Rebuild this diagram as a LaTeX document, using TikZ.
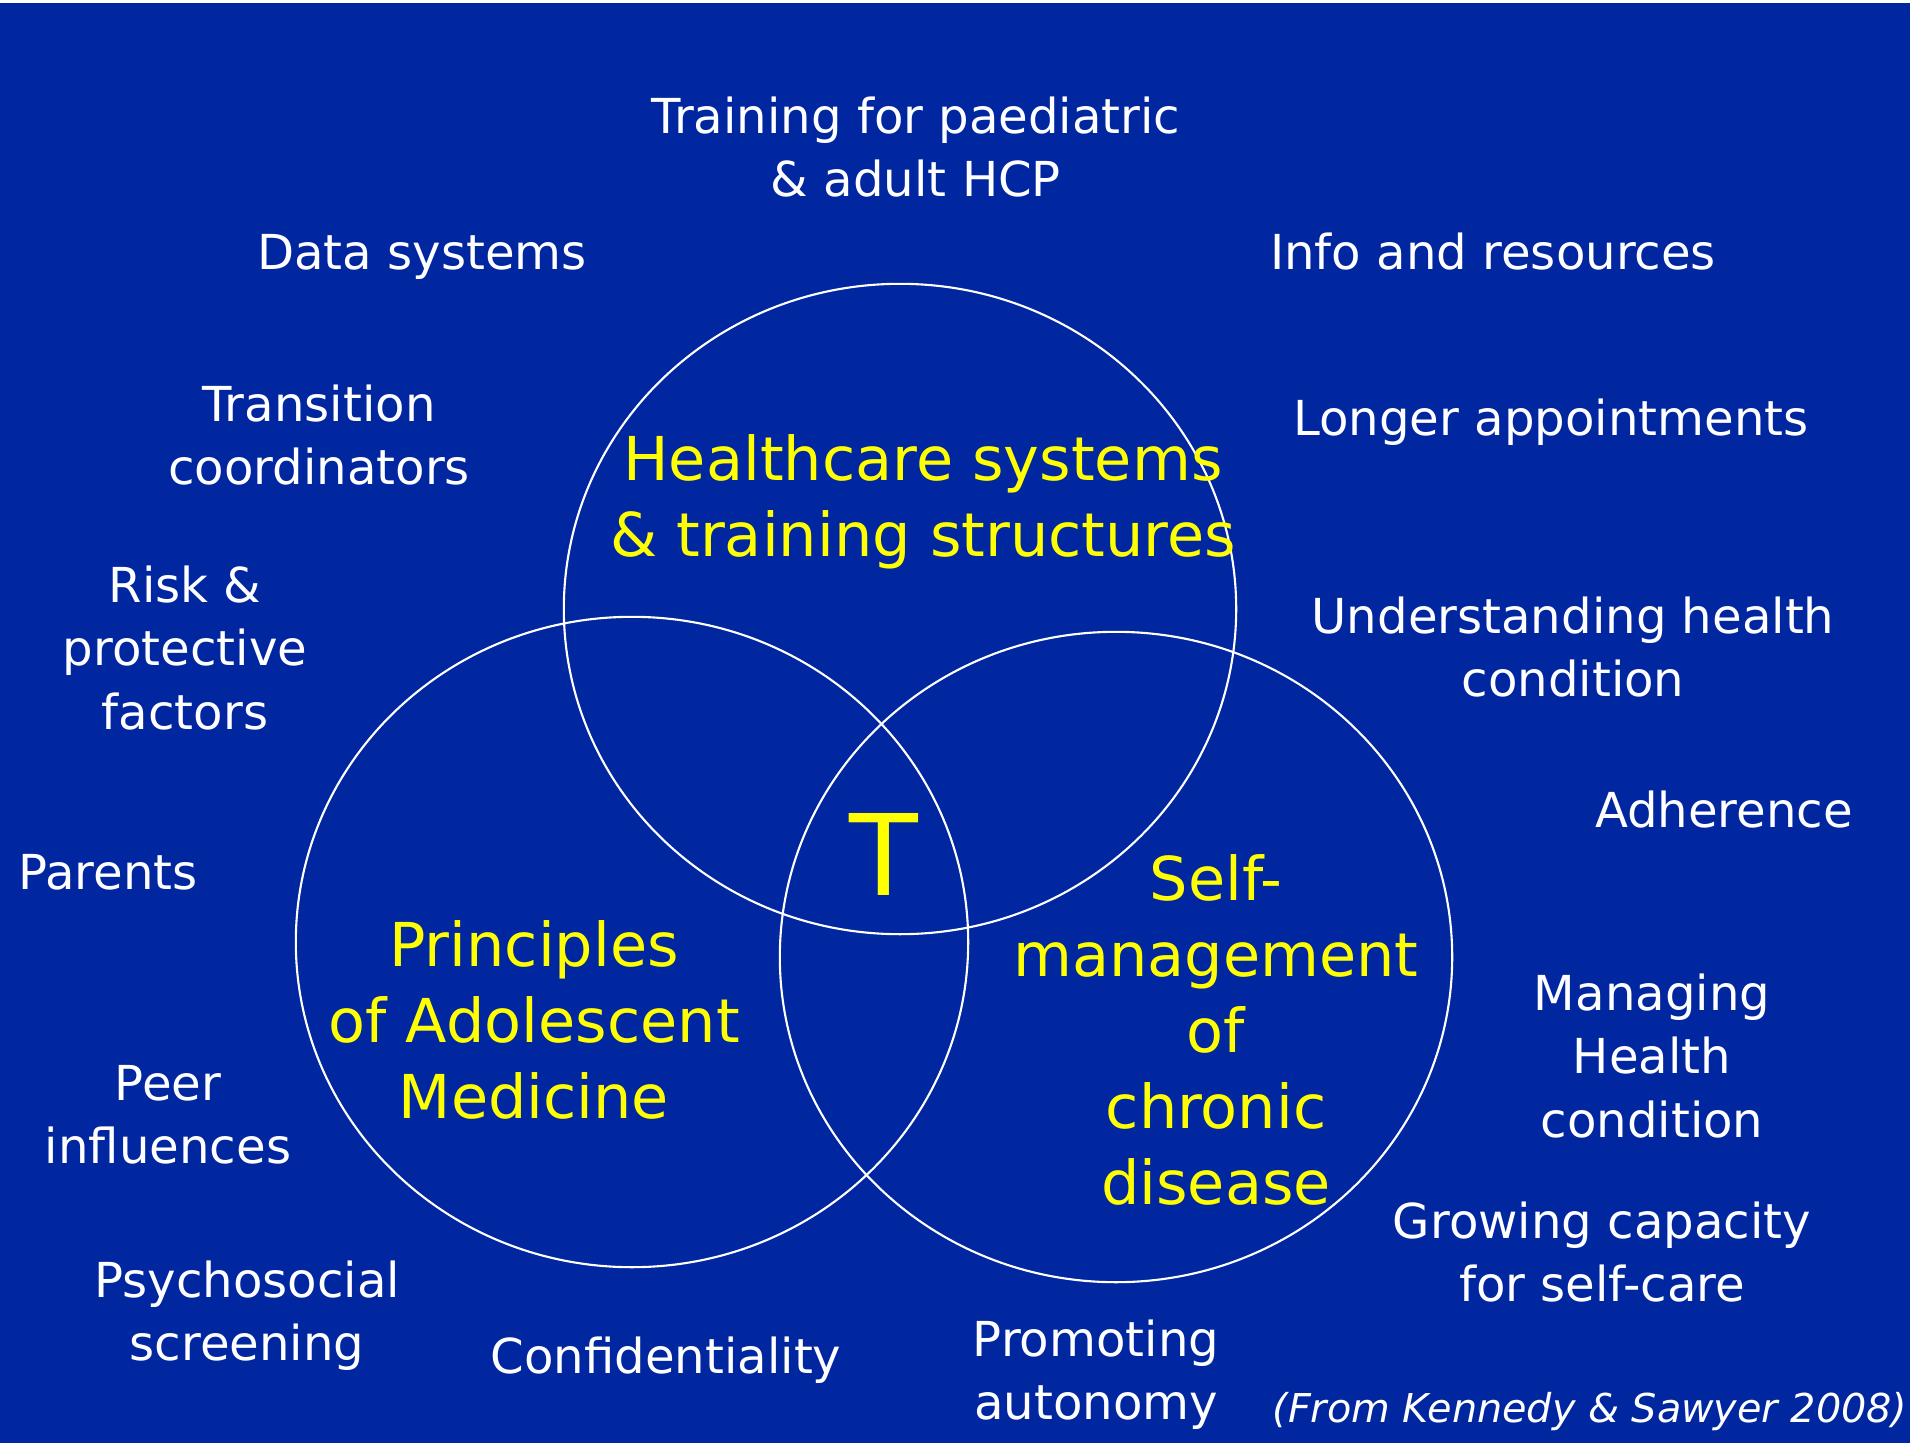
\documentclass[tikz,border=0pt]{standalone}
\usepackage{fontspec}
\setmainfont{DejaVu Sans}
\definecolor{slideblue}{RGB}{0,38,160}
\definecolor{slideyellow}{RGB}{255,255,0}

\begin{document}
\begin{tikzpicture}[x=0.01cm,y=-0.01cm,
    factor/.style={white,align=center,inner sep=0pt,font=\fontsize{13.7}{18}\selectfont},
    realm/.style={slideyellow,align=center,inner sep=0pt,font=\fontsize{17.2}{21.6}\selectfont},
    ring/.style={white,line width=0.6pt}]
    \fill[white] (0,0) rectangle (1910,1446);
    \fill[slideblue] (0,3) rectangle (1910,1443);
    \useasboundingbox (0,0) rectangle (1910,1446);
    \draw[ring] (900,609) ellipse [x radius=3.36cm,y radius=3.25cm];
    \draw[ring] (632,942) ellipse [x radius=3.36cm,y radius=3.25cm];
    \draw[ring] (1116,957) ellipse [x radius=3.36cm,y radius=3.25cm];
    \node[realm] (systems) at (923,502) {Healthcare systems\\\& training structures};
    \node[realm] (adolescent) at (534,1020) {Principles\\of Adolescent\\Medicine};
    \node[realm] (selfcare) at (1216,1030) {Self-\\management\\of\\chronic\\disease};
    \node[slideyellow,inner sep=0pt,font=\fontsize{32}{38}\selectfont] (transition) at (884,854) {T};
    \node[factor] (training) at (916,147) {Training for paediatric\\\& adult HCP};
    \node[factor] (data) at (422,257) {Data systems};
    \node[factor] (info) at (1493,252) {Info and resources};
    \node[factor] (coordinators) at (319,435) {Transition\\coordinators};
    \node[factor] (appointments) at (1551,422) {Longer appointments};
    \node[factor] (risk) at (185,648) {Risk \&\\protective\\factors};
    \node[factor] (understanding) at (1573,647) {Understanding health\\condition};
    \node[factor] (adherence) at (1724,810) {Adherence};
    \node[factor] (parents) at (108,872) {Parents};
    \node[factor] (peer) at (168,1115) {Peer\\influences};
    \node[factor] (managing) at (1652,1056) {Managing\\Health\\condition};
    \node[factor] (growing) at (1602,1252) {Growing capacity\\for self-care};
    \node[factor] (screening) at (247,1316) {Psychosocial\\screening};
    \node[factor] (confidentiality) at (666,1360) {Confidentiality};
    \node[factor] (autonomy) at (1096,1375) {Promoting\\autonomy};
    \node[factor,font=\itshape\fontsize{11.3}{14}\selectfont] (source) at (1590,1412) {(From Kennedy \& Sawyer 2008)};
\end{tikzpicture}
\end{document}
